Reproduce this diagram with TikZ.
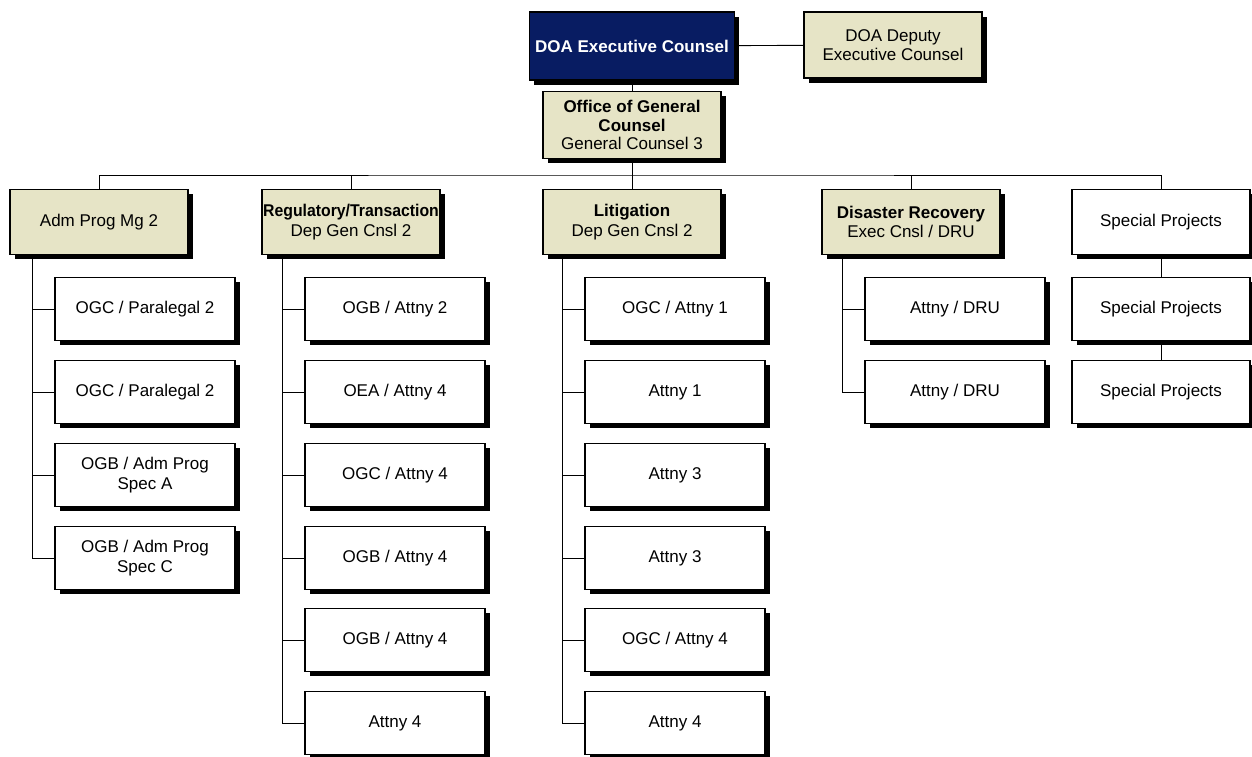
\documentclass[tikz,border=0pt]{standalone}
\usepackage{fontspec}
\usepackage{graphicx}
\setmainfont{Liberation Sans}
\usetikzlibrary{shadows}
\definecolor{beige}{RGB}{230,228,198}
\definecolor{navy}{RGB}{8,28,98}
\begin{document}
\begin{tikzpicture}[x=1pt,y=-1pt,
  box/.style={draw=black, line width=1.2pt, minimum width=178pt, minimum height=63pt, align=center,
    font=\fontsize{17}{19.5}\selectfont, inner sep=1pt,
    drop shadow={shadow xshift=4.5pt, shadow yshift=-4.5pt, fill=black, opacity=1}},
  head/.style={box, fill=beige},
  leaf/.style={box, fill=white, minimum width=180pt},
  link/.style={draw=black, line width=0.9pt}]
\useasboundingbox (0,0) rectangle (1252,756);

% top
\node[box, fill=navy, text=white, minimum width=205pt, minimum height=68pt, font=\fontsize{17}{19.5}\selectfont\bfseries] (exec) at (632,46) {DOA Executive Counsel};
\node[head, minimum height=66pt] (dep) at (893,45) {DOA Deputy\\Executive Counsel};
\node[head, minimum height=67pt, font=\fontsize{17}{18.5}\selectfont] (ogc) at (632,125) {\textbf{Office of General}\\\textbf{Counsel}\\General Counsel 3};

% level 2
\node[head, minimum height=65pt] (adm) at (99,222) {Adm  Prog Mg 2};
\node[head, minimum height=65pt] (reg) at (351,222) {\scalebox{0.93}[1]{\textbf{Regulatory/Transaction}}\\Dep Gen Cnsl 2};
\node[head, minimum height=65pt] (lit) at (632,222) {\textbf{Litigation}\\Dep Gen Cnsl 2};
\node[head, minimum height=65pt] (dru) at (911,222) {\textbf{Disaster Recovery}\\Exec Cnsl / DRU};
\node[leaf, minimum width=178pt, minimum height=65pt] (sp1) at (1161,222) {Special Projects};
\node[leaf, minimum width=178pt] (sp2) at (1161,309) {Special Projects};
\node[leaf, minimum width=178pt] (sp3) at (1161,392) {Special Projects};

% Adm children
\node[leaf] (a1) at (145,309) {OGC / Paralegal 2};
\node[leaf] (a2) at (145,392) {OGC / Paralegal 2};
\node[leaf] (a3) at (145,475) {OGB / Adm  Prog\\Spec A};
\node[leaf] (a4) at (145,558) {OGB / Adm  Prog\\Spec C};

% Reg children
\node[leaf] (r1) at (395,309) {OGB / Attny 2};
\node[leaf] (r2) at (395,392) {OEA / Attny 4};
\node[leaf] (r3) at (395,475) {OGC / Attny 4};
\node[leaf] (r4) at (395,558) {OGB / Attny 4};
\node[leaf] (r5) at (395,640) {OGB / Attny 4};
\node[leaf] (r6) at (395,723) {Attny 4};

% Lit children
\node[leaf] (l1) at (675,309) {OGC / Attny 1};
\node[leaf] (l2) at (675,392) {Attny 1};
\node[leaf] (l3) at (675,475) {Attny 3};
\node[leaf] (l4) at (675,558) {Attny 3};
\node[leaf] (l5) at (675,640) {OGC / Attny 4};
\node[leaf] (l6) at (675,723) {Attny 4};

% DRU children
\node[leaf] (d1) at (955,309) {Attny / DRU};
\node[leaf] (d2) at (955,392) {Attny / DRU};

% connectors top
\draw[link] (exec) -- (dep);
\draw[link] (exec) -- (ogc);
\coordinate (bus) at (632,175);
\draw[link] (ogc.south) -- (bus);
\draw[link] (adm.north) |- (bus) -| (sp1.north);
\draw[link] (reg.north) -- (reg.north |- bus);
\draw[link] (lit.north) -- (lit.north |- bus);
\draw[link] (dru.north) -- (dru.north |- bus);
\draw[link] (sp1) -- (sp2);
\draw[link] (sp2) -- (sp3);

% child trunks
\coordinate (admT) at ([xshift=23pt]adm.south west);
\coordinate (regT) at ([xshift=21pt]reg.south west);
\coordinate (litT) at ([xshift=20pt]lit.south west);
\coordinate (druT) at ([xshift=21pt]dru.south west);
\foreach \c in {a1,a2,a3,a4} \draw[link] (admT) |- (\c.west);
\foreach \c in {r1,r2,r3,r4,r5,r6} \draw[link] (regT) |- (\c.west);
\foreach \c in {l1,l2,l3,l4,l5,l6} \draw[link] (litT) |- (\c.west);
\foreach \c in {d1,d2} \draw[link] (druT) |- (\c.west);
\end{tikzpicture}
\end{document}
